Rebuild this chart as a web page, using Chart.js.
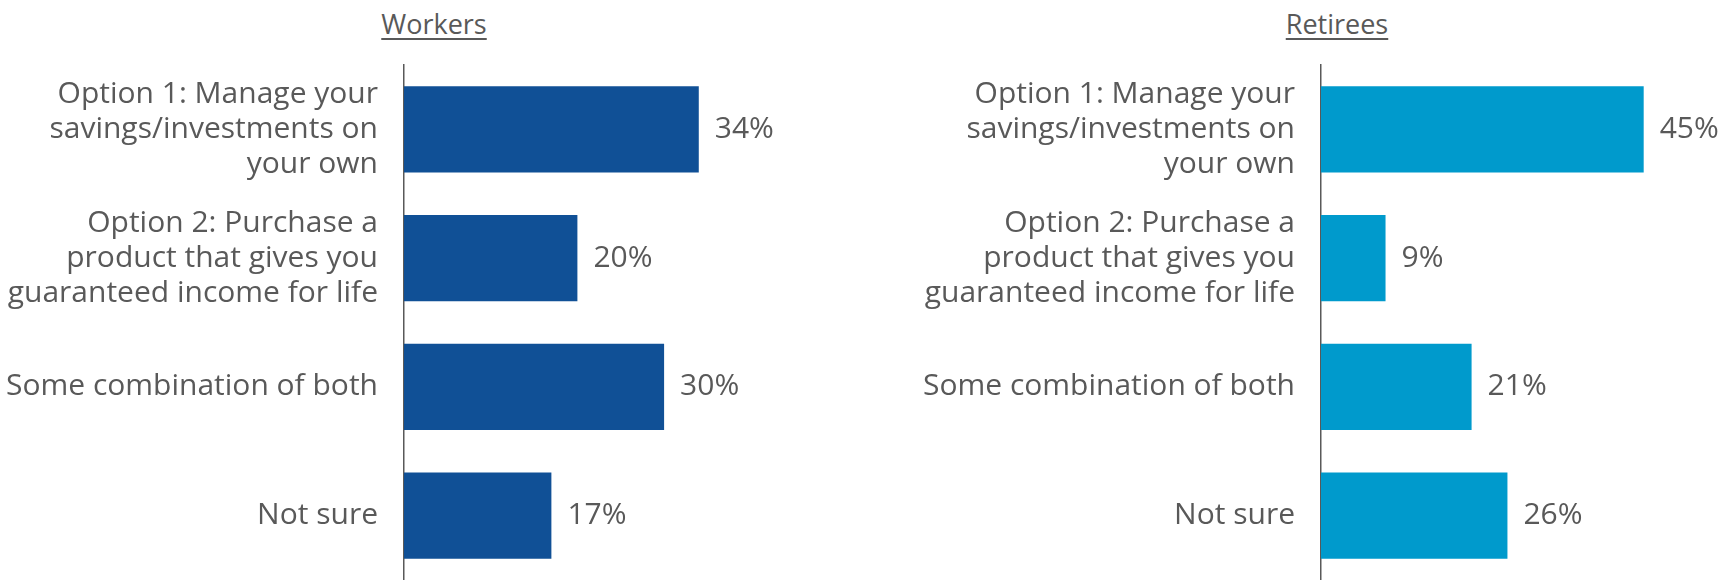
<!DOCTYPE html>
<html>
<head>
<meta charset="utf-8">
<script src="https://cdn.jsdelivr.net/npm/chart.js@4.4.1/dist/chart.umd.min.js"></script>
<style>
	body { margin: 0; background: #fff; }
	#wrap { position: relative; width: 1723px; height: 580px; overflow: hidden; }
	.title {
		position: absolute; top: 5px; width: 300px; text-align: center;
		font-family: "Open Sans", sans-serif; font-size: 27px; color: #595959;
		text-decoration: underline; text-underline-offset: 4px; text-decoration-thickness: 2px;
	}
	canvas { position: absolute; top: 0; }
</style>
</head>
<body>
<div id="wrap">
	<div class="title" style="left:284px">Workers</div>
	<div class="title" style="left:1187px">Retirees</div>
	<canvas id="workers" style="left:0px"></canvas>
	<canvas id="retirees" style="left:860px"></canvas>
</div>
<script>
var categories = [
	['Option 1: Manage your', 'savings/investments on', 'your own'],
	['Option 2: Purchase a', 'product that gives you', 'guaranteed income for life'],
	'Some combination of both',
	'Not sure'
];
var workers = [34, 20, 30, 17];
var retirees = [45, 9, 21, 26];

var TEXT = '#595959';
var FONT = '"Open Sans", sans-serif';

// value labels at bar ends
var valueLabels = {
	id: 'valueLabels',
	afterDatasetsDraw: function(chart){
		var ctx = chart.ctx;
		ctx.save();
		ctx.font = '30px ' + FONT;
		ctx.fillStyle = TEXT;
		ctx.textBaseline = 'middle';
		ctx.textAlign = 'left';
		var meta = chart.getDatasetMeta(0);
		meta.data.forEach(function(bar, i){
			ctx.fillText(chart.data.datasets[0].data[i] + '%', bar.x + 16, bar.y);
		});
		ctx.restore();
	}
};

function makeChart(id, width, values, color, axisWidth, xMax, padRight){
	var canvas = document.getElementById(id);
	canvas.width = width;
	canvas.height = 580;
	return new Chart(canvas, {
		type: 'bar',
		data: {
			labels: categories,
			datasets: [{
				data: values,
				backgroundColor: color,
				borderWidth: 0,
				categoryPercentage: 1,
				barPercentage: 0.67
			}]
		},
		options: {
			indexAxis: 'y',
			responsive: false,
			animation: false,
			devicePixelRatio: 1,
			layout: { padding: { top: 65, bottom: 0, left: 0, right: padRight } },
			plugins: { legend: { display: false }, tooltip: { enabled: false } },
			scales: {
				x: { display: false, min: 0, max: xMax },
				y: {
					afterFit: function(scale){
						scale.width = axisWidth;
						scale.paddingTop = 0;
						scale.paddingBottom = 0;
					},
					grid: { display: false, drawTicks: false },
					border: { display: true, color: TEXT, width: 1.5 },
					ticks: {
						padding: 26,
						color: TEXT,
						font: { family: FONT, size: 30, lineHeight: 35 / 30 }
					}
				}
			}
		},
		plugins: [valueLabels]
	});
}

makeChart('workers', 860, workers, '#105096', 404, 50, 860 - 404 - 433.5);
makeChart('retirees', 863, retirees, '#009ACC', 461, 55, 863 - 461 - 394.4);
</script>
</body>
</html>
